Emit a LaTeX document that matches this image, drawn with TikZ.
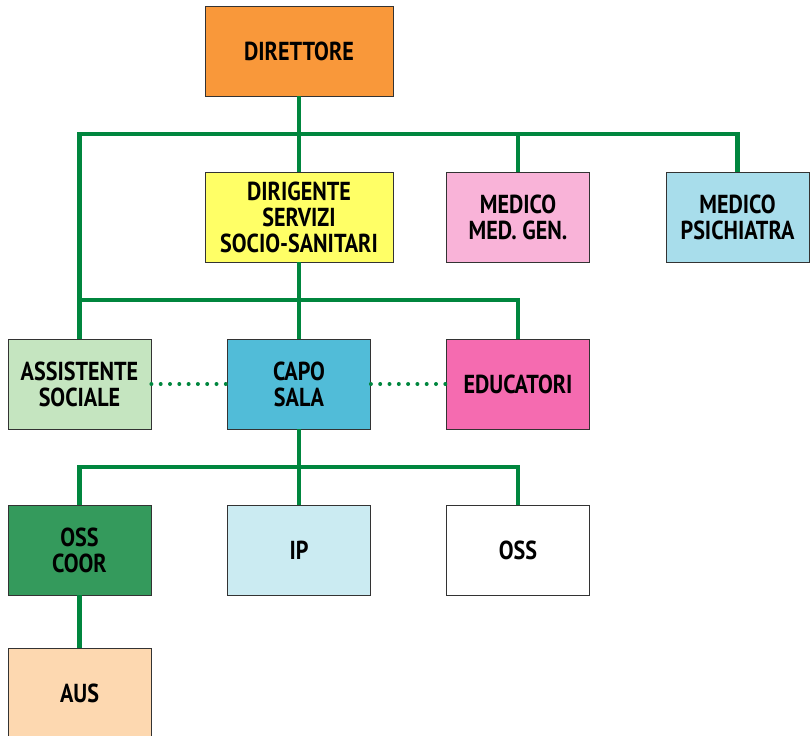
\documentclass[tikz,border=0pt]{standalone}
\usepackage{fontspec}
\setmainfont{PT Sans}[FakeStretch=0.85]
\definecolor{linkgreen}{RGB}{0,134,62}
\definecolor{orangebox}{RGB}{249,152,58}
\definecolor{yellowbox}{RGB}{255,255,102}
\definecolor{pinkbox}{RGB}{249,179,216}
\definecolor{skybox}{RGB}{168,221,235}
\definecolor{mintbox}{RGB}{197,229,192}
\definecolor{bluebox}{RGB}{81,188,216}
\definecolor{magentabox}{RGB}{245,107,176}
\definecolor{greenbox}{RGB}{52,154,92}
\definecolor{icebox}{RGB}{203,235,242}
\definecolor{peachbox}{RGB}{253,216,176}

\begin{document}
\begin{tikzpicture}[x=1pt, y=-1pt,
  box/.style={draw=black!80, line width=0.8pt, minimum width=143pt, minimum height=90pt,
    inner sep=0pt, align=center, font=\bfseries\fontsize{26}{26}\selectfont},
  widebox/.style={box, minimum width=188pt},
  link/.style={draw=linkgreen, line width=4.5pt},
  aside/.style={draw=linkgreen, line width=4pt, line cap=round, dash pattern=on 0pt off 9.3pt}]

\useasboundingbox (0,0) rectangle (811,736);

% levels
\coordinate (bus1) at (0,134);
\coordinate (bus2) at (0,300);
\coordinate (bus3) at (0,467);

\node[widebox, fill=orangebox] (direttore) at (299,51) {DIRETTORE};
\node[widebox, fill=yellowbox] (dirigente) at (299,217) {DIRIGENTE\\SERVIZI\\SOCIO-SANITARI};
\node[box, fill=pinkbox] (medgen) at (518,217) {MEDICO\\MED. GEN.};
\node[box, fill=skybox] (psich) at (737.5,217) {MEDICO\\PSICHIATRA};

\node[box, fill=mintbox] (assist) at (79.5,384) {ASSISTENTE\\SOCIALE};
\node[box, fill=bluebox] (capo) at (299,384) {CAPO\\SALA};
\node[box, fill=magentabox] (educ) at (518,384) {EDUCATORI};

\node[box, fill=greenbox] (osscoor) at (79.5,550) {OSS\\COOR};
\node[box, fill=icebox] (ip) at (299,550) {IP};
\node[box, fill=white] (oss) at (518,550) {OSS};

\node[box, fill=peachbox] (aus) at (79.5,693) {AUS};

% connectors
\draw[link] (direttore.south) -- (dirigente.north);
\draw[link] (assist.north) -- (assist.north |- bus1) -- (psich.north |- bus1) -- (psich.north);
\draw[link] (medgen.north |- bus1) -- (medgen.north);

\draw[link] (dirigente.south) -- (capo.north);
\draw[link] (assist.north |- bus2) -- (educ.north |- bus2) -- (educ.north);

\draw[link] (capo.south) -- (ip.north);
\draw[link] (osscoor.north) -- (osscoor.north |- bus3) -- (oss.north |- bus3) -- (oss.north);
\draw[link] (osscoor.south) -- (aus.north);

\draw[aside] (assist.east) -- (capo.west);
\draw[aside] (capo.east) -- (educ.west);
\end{tikzpicture}
\end{document}
